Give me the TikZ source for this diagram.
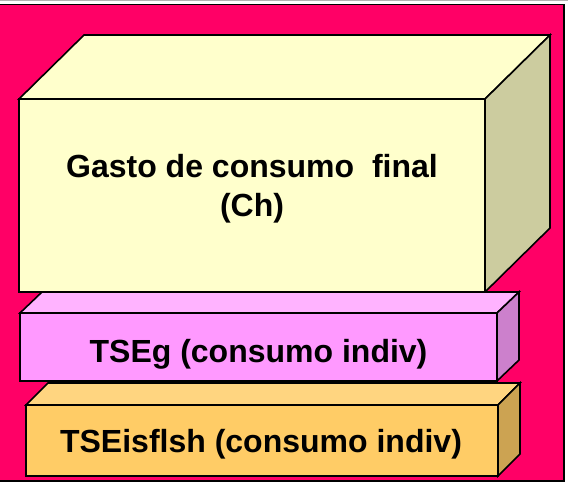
\documentclass[tikz,border=0pt]{standalone}
\usepackage{fontspec}
\setmainfont{Liberation Sans}
\usetikzlibrary{positioning}

\definecolor{fondo}{HTML}{FF0066}
\definecolor{cremaFrente}{HTML}{FFFFCC}
\definecolor{cremaLado}{HTML}{CCCC9F}
\definecolor{rosaFrente}{HTML}{FF99FF}
\definecolor{rosaTapa}{HTML}{FFB3FF}
\definecolor{rosaLado}{HTML}{CC80CC}
\definecolor{naranjaFrente}{HTML}{FFCC66}
\definecolor{naranjaTapa}{HTML}{FFD580}
\definecolor{naranjaLado}{HTML}{CCA352}

\tikzset{
  borde/.style={line width=1.6pt, line join=miter},
  cara/.style={borde, draw=black, inner sep=0pt, outer sep=0pt},
  rotulo/.style={font=\fontsize{32}{39}\selectfont\bfseries, align=center, inner sep=0pt}
}

\begin{document}
\begin{tikzpicture}[x=1pt,y=-1pt]
\useasboundingbox (0,0) rectangle (568,483);
\draw[line width=1, color=gray!60](0,0.6) -- (568,0.6);
\draw[line width=1.3, fill=fondo](-3,4.5) rectangle (564,481);
% caja grande
\node[cara, fill=cremaFrente, minimum width=466, minimum height=193] (grande) at (252,195.5) {};
\draw[borde, fill=cremaFrente](grande.north west) -- ++(65,-64) -- ([shift={(65,-64)}]grande.north east) -- (grande.north east) -- cycle;
\draw[borde, fill=cremaLado](grande.north east) -- ++(65,-64) -- ([shift={(65,-64)}]grande.south east) -- (grande.south east) -- cycle;
\node[rotulo, anchor=base] (gasto) at (252,216) {Gasto de consumo\ \ final\\(Ch)};
% caja rosa
\node[cara, fill=rosaFrente, minimum width=477, minimum height=68] (tseg) at (258.5,347) {};
\draw[borde, fill=rosaTapa](tseg.north west) -- ++(22,-21) -- ([shift={(22,-21)}]tseg.north east) -- (tseg.north east) -- cycle;
\draw[borde, fill=rosaLado](tseg.north east) -- ++(22,-21) -- ([shift={(22,-21)}]tseg.south east) -- (tseg.south east) -- cycle;
\node[rotulo, anchor=base] (tsegtexto) at (258.5,362) {TSEg (consumo indiv)};
% caja naranja
\node[cara, fill=naranjaFrente, minimum width=472, minimum height=71] (tseisflsh) at (262,440.5) {};
\draw[borde, fill=naranjaTapa](tseisflsh.north west) -- ++(22,-22) -- ([shift={(22,-22)}]tseisflsh.north east) -- (tseisflsh.north east) -- cycle;
\draw[borde, fill=naranjaLado](tseisflsh.north east) -- ++(22,-22) -- ([shift={(22,-22)}]tseisflsh.south east) -- (tseisflsh.south east) -- cycle;
\node[rotulo, anchor=base] (tseisflshtexto) at (261,452) {TSEisflsh (consumo indiv)};
\end{tikzpicture}
\end{document}
